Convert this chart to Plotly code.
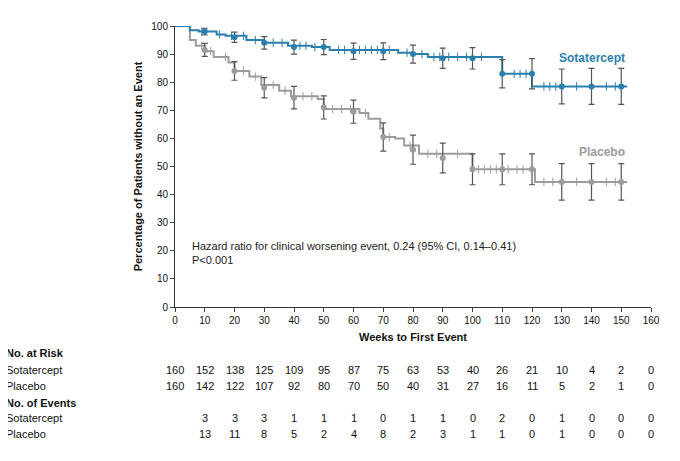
import plotly.graph_objects as go

weeks = [10, 20, 30, 40, 50, 60, 70, 80, 90, 100, 110, 120, 130, 140, 150]
sota_pts = [98, 96, 94, 92.5, 92.5, 91, 91, 90, 88.5, 88.5, 83, 83, 78.5, 78.5, 78.5]
sota_err = [1.2, 1.8, 2.2, 2.5, 2.7, 2.9, 3.0, 3.2, 3.6, 3.8, 5.0, 5.4, 6.2, 6.4, 6.4]
plac_pts = [91.5, 84, 78, 74.5, 71, 69.5, 60.5, 56, 53, 49, 49, 49, 44.5, 44.5, 44.5]
plac_err = [2.3, 3.3, 3.6, 4.0, 4.1, 4.1, 5.0, 5.2, 5.3, 5.5, 5.5, 5.5, 6.5, 6.5, 6.5]

sota_t = [0, 5, 8, 14, 17, 24, 30, 38, 46, 52, 75, 80, 85, 110, 120, 152]
sota_s = [100, 98.5, 98, 97, 96.5, 95, 94, 93, 92.5, 91.5, 90.5, 90, 89, 83, 78.5, 78.5]
plac_t = [0, 5, 7, 10, 13, 18, 20, 25, 29, 35, 39, 48, 50, 62, 65, 69, 70, 74, 77, 82, 100, 121, 152]
plac_s = [100, 95, 93, 91, 89, 87, 84, 82, 79, 77, 75, 74, 70.5, 69, 67, 63.5, 60.5, 60, 57.5, 54.5, 49, 44.5, 44.5]

sota_cens_t = [9, 15, 19, 23, 27, 33, 36, 42, 44, 47, 55, 57, 62, 64, 66, 68, 72, 78, 83, 87, 89, 92, 95, 98, 103, 114, 116, 118, 124, 126, 128, 135, 145, 148]
plac_cens_t = [9, 12, 17, 23, 27, 33, 37, 43, 46, 53, 56, 59, 64, 72, 79, 85, 88, 95, 102, 104, 106, 108, 112, 115, 117, 124, 127, 135, 145, 148]

risk_sota = [160, 152, 138, 125, 109, 95, 87, 75, 63, 53, 40, 26, 21, 10, 4, 2, 0]
risk_plac = [160, 142, 122, 107, 92, 80, 70, 50, 40, 31, 27, 16, 11, 5, 2, 1, 0]
ev_sota = [3, 3, 3, 1, 1, 1, 0, 1, 1, 0, 2, 0, 1, 0, 0, 0]
ev_plac = [13, 11, 8, 5, 2, 4, 8, 2, 3, 1, 1, 0, 1, 0, 0, 0]
table_weeks = list(range(0, 161, 10))
ev_weeks = list(range(10, 161, 10))

BLUE = "#2b7fad"
GRAY = "#9c9c9c"
FONT = "Liberation Sans"


def step_value(ts, ss, t):
    v = ss[0]
    for a, b in zip(ts, ss):
        if a <= t:
            v = b
    return v


fig = go.Figure()
for ts, ss, cens, pts, err, col in [
    (plac_t, plac_s, plac_cens_t, plac_pts, plac_err, GRAY),
    (sota_t, sota_s, sota_cens_t, sota_pts, sota_err, BLUE),
]:
    fig.add_trace(go.Scatter(x=ts, y=ss, mode="lines", line=dict(color=col, width=2, shape="hv"), showlegend=False))
    fig.add_trace(go.Scatter(x=cens, y=[step_value(ts, ss, t) for t in cens], mode="markers",
                             marker=dict(symbol="line-ns", size=6, line=dict(color=col, width=1)), showlegend=False))
    fig.add_trace(go.Scatter(x=weeks, y=pts, mode="markers", marker=dict(color=col, size=6),
                             error_y=dict(type="data", array=err, color="#555555", thickness=1.2, width=3),
                             showlegend=False))

fig.add_annotation(x=152, y=88.5, text="<b>Sotatercept</b>", showarrow=False, xanchor="right",
                   font=dict(color=BLUE, size=12, family=FONT))
fig.add_annotation(x=152, y=55, text="<b>Placebo</b>", showarrow=False, xanchor="right",
                   font=dict(color=GRAY, size=12, family=FONT))
fig.add_annotation(x=5, y=14, text="Hazard ratio for clinical worsening event, 0.24 (95% CI, 0.14\u20130.41)<br>P<0.001",
                   showarrow=False, xanchor="left", yanchor="bottom", align="left",
                   font=dict(size=11, family=FONT, color="#222"))


def py(p):
    return (306 - p) / 285


rows = [
    ("<b>No. at Risk</b>", 361, None, None),
    ("Sotatercept", 378, table_weeks, risk_sota),
    ("Placebo", 394, table_weeks, risk_plac),
    ("<b>No. of Events</b>", 411, None, None),
    ("Sotatercept", 427, ev_weeks, ev_sota),
    ("Placebo", 443, ev_weeks, ev_plac),
]
for label, p, xs, vals in rows:
    fig.add_annotation(x=-0.36, xref="paper", y=py(p), yref="paper", text=label, showarrow=False,
                       xanchor="left", font=dict(size=11, family=FONT, color="#111"))
    if xs:
        for xv, v in zip(xs, vals):
            fig.add_annotation(x=xv, xref="x", y=py(p), yref="paper", text=str(v), showarrow=False,
                               font=dict(size=11, family=FONT, color="#111"))

fig.update_layout(
    width=672, height=453, margin=dict(l=167, r=29, t=14, b=154),
    plot_bgcolor="white", paper_bgcolor="white",
    font=dict(family=FONT, size=10, color="#111"),
    xaxis=dict(range=[0, 160], dtick=10, showline=True, linecolor="#333", ticks="outside", ticklen=4,
               showgrid=False, zeroline=False,
               title=dict(text="<b>Weeks to First Event</b>", font=dict(size=11), standoff=8)),
    yaxis=dict(range=[0, 100], dtick=10, showline=True, linecolor="#333", ticks="outside", ticklen=4,
               showgrid=False, zeroline=False,
               title=dict(text="<b>Percentage of Patients without an Event</b>", font=dict(size=11), standoff=6)),
)
fig.write_html("out.html")
